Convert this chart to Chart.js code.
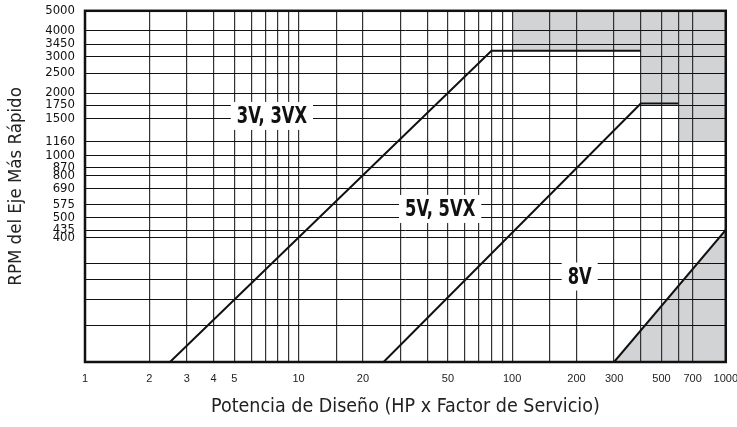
<!DOCTYPE html>
<html>
<head>
<meta charset="utf-8">
<script src="https://cdn.jsdelivr.net/npm/chart.js@4.4.1/dist/chart.umd.min.js"></script>
<style>
html, body { margin: 0; padding: 0; background: #fff; overflow: hidden; width: 737px; height: 427px; }
#chart { position: absolute; left: 0; top: -7px; }
</style>
</head>
<body>
<canvas id="chart" width="748" height="434"></canvas>
<script>
// -----------------------------
// DATA
// -----------------------------
const xGrid = [1, 2, 3, 4, 5, 6, 7, 8, 9, 10, 15, 20, 30, 40, 50, 60, 70, 80, 90,
               100, 150, 200, 300, 400, 500, 600, 700, 1000];
const xLabels = [1, 2, 3, 4, 5, 10, 20, 50, 100, 200, 300, 500, 700, 1000];

const yGrid = [5000, 4000, 3450, 3000, 2500, 2000, 1750, 1500, 1160, 1000, 870, 800,
               690, 575, 500, 435, 400, 300, 250, 200, 150, 100];
const yLabels = [5000, 4000, 3450, 3000, 2500, 2000, 1750, 1500, 1160, 1000, 870, 800,
                 690, 575, 500, 435, 400];

// belt section limits (HP, RPM)
const hp3V = [2.5, 80, 400];
const rpm3V = [100, 3200, 3200];
const hp5V = [25, 400, 600];
const rpm5V = [100, 1780, 1780];
const hp8V = [300, 1000];
const rpm8V = [100, 435];

// shaded zone (upper right)
const shadeHp = [100, 400, 400, 600, 600, 1000];
const shadeRpm = [3200, 3200, 1780, 1780, 1160, 1160];

const beltNames = ["3V, 3VX", "5V, 5VX", "8V"];
const labelHp = [7.5, 46, 207];
const labelRpm = [1550, 550, 259];

const SHADE = "#d1d3d4";
const NARROW = '"Liberation Sans Narrow", "DejaVu Sans Condensed", sans-serif';

function toPoints(xs, ys) {
    return xs.map((x, i) => ({ x: x, y: ys[i] }));
}

function lineSet(xs, ys, fill) {
    return {
        data: toPoints(xs, ys),
        showLine: true,
        borderColor: "#111",
        borderWidth: 2,
        pointRadius: 0,
        fill: fill,
        backgroundColor: SHADE
    };
}

// -----------------------------
// PLUGINS
// -----------------------------
// bold condensed labels on a white box
const beltLabels = {
    id: "beltLabels",
    afterDatasetsDraw(chart) {
        const { ctx, scales: { x, y } } = chart;
        const sx = 0.79;
        ctx.save();
        ctx.font = "bold 23px " + NARROW;
        ctx.textAlign = "center";
        ctx.textBaseline = "middle";
        beltNames.forEach((name, i) => {
            const px = x.getPixelForValue(labelHp[i]);
            const py = y.getPixelForValue(labelRpm[i]);
            const w = ctx.measureText(name).width * sx + 12;
            ctx.fillStyle = "#fff";
            ctx.fillRect(px - w / 2, py - 14, w, 28);
            ctx.save();
            ctx.translate(px, py + 1);
            ctx.scale(sx, 1);
            ctx.fillStyle = "#111";
            ctx.fillText(name, 0, 0);
            ctx.restore();
        });
        ctx.restore();
    }
};

const frame = {
    id: "frame",
    afterDraw(chart) {
        const { ctx, chartArea: a } = chart;
        ctx.save();
        ctx.strokeStyle = "#111";
        ctx.lineWidth = 2.5;
        ctx.strokeRect(a.left, a.top, a.right - a.left, a.bottom - a.top);
        ctx.restore();
    }
};

// -----------------------------
// CHART
// -----------------------------
new Chart(document.getElementById("chart"), {
    type: "scatter",
    data: {
        datasets: [
            {
                data: toPoints(shadeHp, shadeRpm),
                showLine: true,
                borderWidth: 0,
                pointRadius: 0,
                fill: "end",
                backgroundColor: SHADE
            },
            lineSet(hp3V, rpm3V, false),
            lineSet(hp5V, rpm5V, false),
            lineSet(hp8V, rpm8V, "start")
        ]
    },
    options: {
        responsive: false,
        animation: false,
        layout: { padding: 0 },
        plugins: {
            legend: { display: false },
            tooltip: { enabled: false },
            filler: { drawTime: "beforeDraw" }
        },
        scales: {
            x: {
                type: "logarithmic",
                min: 1,
                max: 1000,
                afterBuildTicks: (axis) => { axis.ticks = xGrid.map(v => ({ value: v })); },
                afterFit: (axis) => { axis.height = 65; },
                grid: { color: "#333", lineWidth: 1.2, drawTicks: false },
                border: { display: false },
                ticks: {
                    autoSkip: false,
                    maxRotation: 0,
                    minRotation: 0,
                    padding: 10,
                    color: "#222",
                    font: { family: "Liberation Sans", size: 11 },
                    callback: (v) => xLabels.includes(v) ? String(v) : ""
                },
                title: {
                    display: true,
                    text: "Potencia de Diseño (HP x Factor de Servicio)",
                    color: "#222",
                    font: { family: NARROW, size: 19.5 },
                    padding: { top: 0, bottom: 8 }
                }
            },
            y: {
                type: "logarithmic",
                min: 100,
                max: 5000,
                afterBuildTicks: (axis) => { axis.ticks = yGrid.map(v => ({ value: v })); },
                afterFit: (axis) => { axis.width = 85; },
                grid: { color: "#111", lineWidth: 1, drawTicks: false },
                border: { display: false },
                ticks: {
                    autoSkip: false,
                    padding: 10,
                    color: "#111",
                    font: { family: NARROW, size: 13 },
                    callback: (v) => yLabels.includes(v) ? String(v) : ""
                },
                title: {
                    display: true,
                    text: "RPM del Eje Más Rápido",
                    color: "#222",
                    font: { family: NARROW, size: 18.5 },
                    padding: { top: 5, bottom: 0 }
                }
            }
        }
    },
    plugins: [beltLabels, frame]
});
</script>
</body>
</html>
